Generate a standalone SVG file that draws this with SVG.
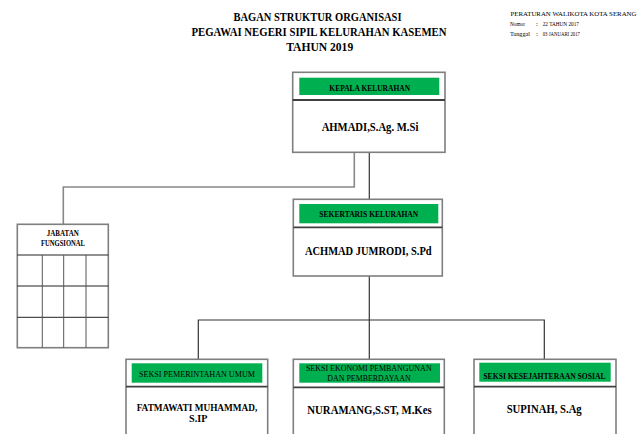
<svg xmlns="http://www.w3.org/2000/svg" width="638" height="434" viewBox="0 0 638 434">
<style>
.t{font-family:"Liberation Serif","Times New Roman",serif;fill:#000}
.b{font-weight:bold}
.box{fill:#fff;stroke:#7f7f7f;stroke-width:1.6}
.hd{fill:#00b050;stroke:none}
.dv{stroke:#404040;stroke-width:1.8}
.c{fill:none;stroke:#333;stroke-width:1.2}
.cg{fill:none;stroke:#888;stroke-width:1.6}
.g{stroke:#222;stroke-width:1}
.gv{stroke:#555;stroke-width:1}
</style>
<rect width="638" height="434" fill="#fff"/>
<g id="title">
<text class="t b" x="317.5" y="20.7" font-size="11.5" text-anchor="middle" textLength="168" lengthAdjust="spacingAndGlyphs">BAGAN  STRUKTUR ORGANISASI</text>
<text class="t b" x="319" y="35.7" font-size="11.5" text-anchor="middle" textLength="255" lengthAdjust="spacingAndGlyphs">PEGAWAI NEGERI SIPIL KELURAHAN KASEMEN</text>
<text class="t b" x="319.7" y="50.7" font-size="11.5" text-anchor="middle" textLength="67" lengthAdjust="spacingAndGlyphs">TAHUN 2019</text>
</g>
<g id="regulation">
<text class="t" x="510.5" y="16" font-size="6.4" textLength="126" lengthAdjust="spacingAndGlyphs">PERATURAN WALIKOTA KOTA SERANG</text>
<text class="t" x="510" y="26" font-size="7" textLength="15" lengthAdjust="spacingAndGlyphs">Nomor</text>
<text class="t" x="536" y="26" font-size="7">:</text>
<text class="t" x="542.7" y="26" font-size="7" textLength="36.3" lengthAdjust="spacingAndGlyphs">22 TAHUN 2017</text>
<text class="t" x="510" y="35.5" font-size="7" textLength="20" lengthAdjust="spacingAndGlyphs">Tanggal</text>
<text class="t" x="536" y="35.5" font-size="7">:</text>
<text class="t" x="542.7" y="35.5" font-size="7" textLength="37.3" lengthAdjust="spacingAndGlyphs">03 JANUARI 2017</text>
</g>
<g id="connectors">
<polyline class="cg" points="354.3,152 354.3,187 63.3,187 63.3,224.5"/>
<line class="c" x1="369.3" y1="152" x2="369.3" y2="199.5"/>
<line class="c" x1="369.3" y1="276" x2="369.3" y2="359.5"/>
<polyline class="c" points="198.3,359.5 198.3,320 544.3,320 544.3,359.5"/>
</g>
<g id="kepala">
<rect class="box" x="292.7" y="72.3" width="152.3" height="80"/>
<rect class="hd" x="299.3" y="77.7" width="140" height="17.3"/>
<line class="dv" x1="292.7" y1="100" x2="445" y2="100"/>
<text class="t b" x="369.7" y="91" font-size="8" text-anchor="middle" textLength="80.7" lengthAdjust="spacingAndGlyphs">KEPALA KELURAHAN</text>
<text class="t b" x="370" y="130.7" font-size="11.5" text-anchor="middle" textLength="96.7" lengthAdjust="spacingAndGlyphs">AHMADI,S.Ag. M.Si</text>
</g>
<g id="sekertaris">
<rect class="box" x="293.3" y="199.3" width="149" height="76.7"/>
<rect class="hd" x="299.3" y="204" width="139" height="19.3"/>
<line class="dv" x1="293.3" y1="227.3" x2="442.3" y2="227.3"/>
<text class="t b" x="368.8" y="216.7" font-size="8" text-anchor="middle" textLength="99" lengthAdjust="spacingAndGlyphs">SEKERTARIS KELURAHAN</text>
<text class="t b" x="368.3" y="255" font-size="11.5" text-anchor="middle" textLength="126.7" lengthAdjust="spacingAndGlyphs">ACHMAD JUMRODI, S.Pd</text>
</g>
<g id="jabatan">
<rect class="box" x="17.3" y="224.3" width="91" height="123.4"/>
<line class="g" x1="17.3" y1="255" x2="108.3" y2="255"/>
<line class="g" x1="17.3" y1="286" x2="108.3" y2="286"/>
<line class="g" x1="17.3" y1="317.3" x2="108.3" y2="317.3"/>
<line class="gv" x1="42.3" y1="255" x2="42.3" y2="347.7"/>
<line class="gv" x1="63.7" y1="255" x2="63.7" y2="347.7"/>
<line class="gv" x1="86" y1="255" x2="86" y2="347.7"/>
<text class="t b" x="62.8" y="235.7" font-size="7.2" text-anchor="middle" textLength="32" lengthAdjust="spacingAndGlyphs">JABATAN</text>
<text class="t b" x="63" y="246" font-size="7.2" text-anchor="middle" textLength="44" lengthAdjust="spacingAndGlyphs">FUNGSIONAL</text>
</g>
<g id="seksi-pemerintahan">
<rect class="box" x="126" y="359.3" width="141.7" height="90"/>
<rect class="hd" x="131.7" y="363.3" width="130.6" height="19.4"/>
<line class="dv" x1="126" y1="386.7" x2="267.7" y2="386.7"/>
<text class="t" x="197" y="376.7" font-size="8" text-anchor="middle" textLength="116" lengthAdjust="spacingAndGlyphs">SEKSI PEMERINTAHAN UMUM</text>
<text class="t b" x="197" y="411" font-size="10.5" text-anchor="middle" textLength="120.7" lengthAdjust="spacingAndGlyphs">FATMAWATI MUHAMMAD,</text>
<text class="t b" x="198.2" y="422" font-size="10.5" text-anchor="middle" textLength="18.3" lengthAdjust="spacingAndGlyphs">S.IP</text>
</g>
<g id="seksi-ekonomi">
<rect class="box" x="293.3" y="359.3" width="151" height="90"/>
<rect class="hd" x="299.3" y="363.3" width="140.7" height="19.4"/>
<line class="dv" x1="293.3" y1="387.3" x2="444.3" y2="387.3"/>
<text class="t" x="368.8" y="370.7" font-size="8" text-anchor="middle" textLength="125.7" lengthAdjust="spacingAndGlyphs">SEKSI EKONOMI PEMBANGUNAN</text>
<text class="t" x="369" y="380.7" font-size="8" text-anchor="middle" textLength="83.3" lengthAdjust="spacingAndGlyphs">DAN PEMBERDAYAAN</text>
<text class="t b" x="369.5" y="414" font-size="11.5" text-anchor="middle" textLength="124.3" lengthAdjust="spacingAndGlyphs">NURAMANG,S.ST, M.Kes</text>
</g>
<g id="seksi-kesejahteraan">
<rect class="box" x="474" y="359.3" width="142" height="90"/>
<rect class="hd" x="479.3" y="362.7" width="131.4" height="19"/>
<line class="dv" x1="474" y1="386.7" x2="616" y2="386.7"/>
<text class="t b" x="544.5" y="379" font-size="8" text-anchor="middle" textLength="122.3" lengthAdjust="spacingAndGlyphs">SEKSI KESEJAHTERAAN SOSIAL</text>
<text class="t b" x="544.2" y="413.3" font-size="11.5" text-anchor="middle" textLength="75" lengthAdjust="spacingAndGlyphs">SUPINAH, S.Ag</text>
</g>
</svg>
